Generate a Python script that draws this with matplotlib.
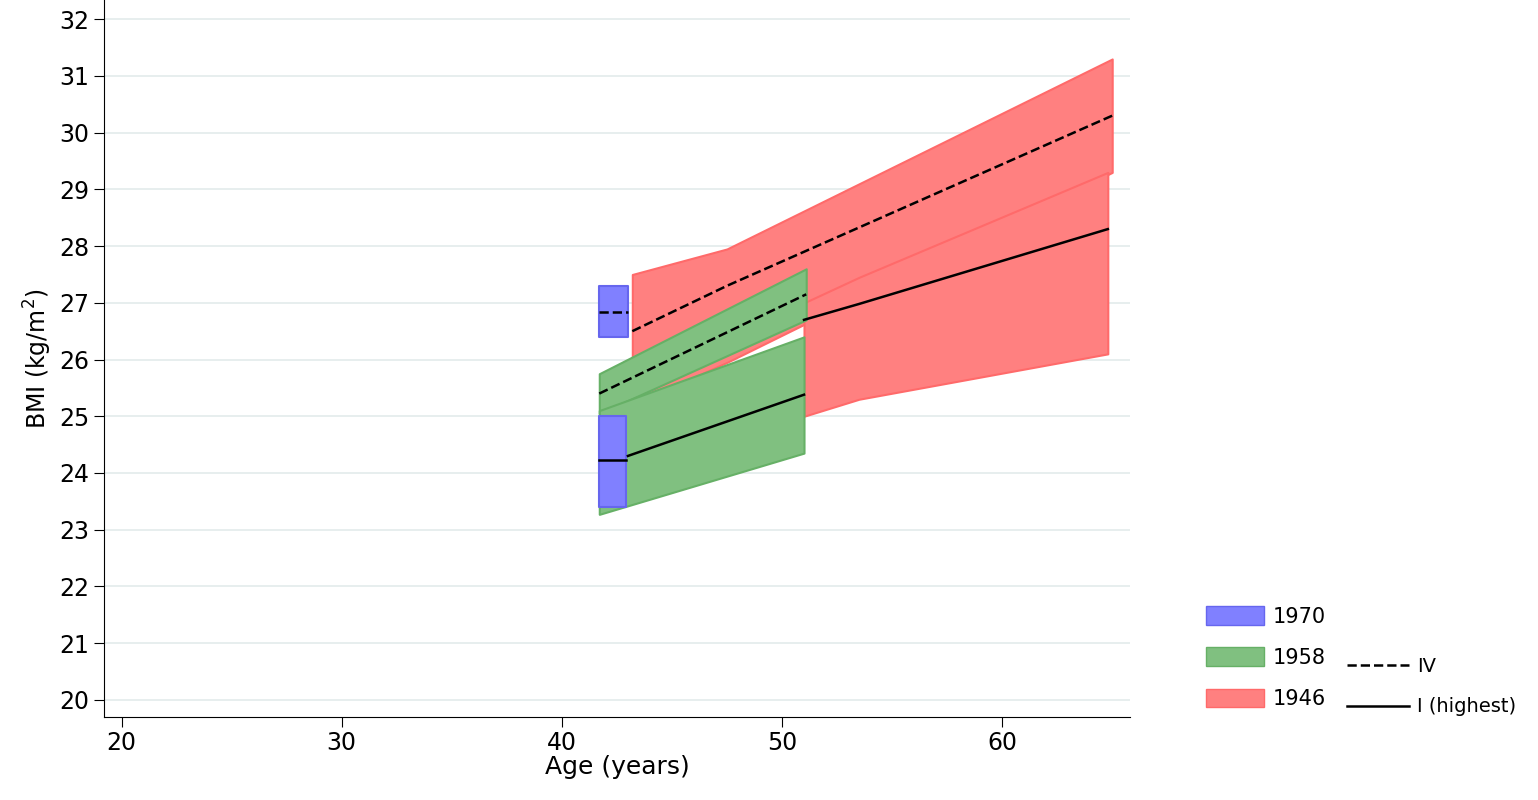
import matplotlib
matplotlib.use("Agg")
import matplotlib.pyplot as plt
from matplotlib.patches import Patch
from matplotlib.lines import Line2D

# data: (x, lower, upper, line)
c1970_IV_x=[41.7,43.0]; c1970_IV_lo=[26.4,26.4]; c1970_IV_hi=[27.3,27.3]; c1970_IV_m=[26.83,26.83]
c1970_I_x=[41.7,42.9]; c1970_I_lo=[23.4,23.4]; c1970_I_hi=[25.0,25.0]; c1970_I_m=[24.22,24.22]
c1958_IV_x=[41.7,51.1]; c1958_IV_lo=[25.05,26.7]; c1958_IV_hi=[25.75,27.6]; c1958_IV_m=[25.4,27.15]
c1958_I_x=[41.7,51.0]; c1958_I_lo=[23.27,24.35]; c1958_I_hi=[25.1,26.4]; c1958_I_m=[24.28,25.38]
c1946_IV_x=[43.2,47.5,65.0]; c1946_IV_lo=[25.2,25.95,29.3]; c1946_IV_hi=[27.5,27.95,31.3]; c1946_IV_m=[26.5,27.3,30.3]
c1946_I_x=[51.0,53.5,64.8]; c1946_I_lo=[25.0,25.3,26.1]; c1946_I_hi=[27.0,27.45,29.3]; c1946_I_m=[26.7,26.98,28.3]

red,green,blue='#ff8080','#80c080','#8080ff'
fig=plt.figure(figsize=(15.38,8.0),dpi=100)
ax=fig.add_axes([0.0676,0.104,0.667,0.896])
for (x,lo,hi,fc,ec) in [
    (c1946_IV_x,c1946_IV_lo,c1946_IV_hi,red,'#ff6a6a'),
    (c1946_I_x,c1946_I_lo,c1946_I_hi,red,'#ff6a6a'),
    (c1958_IV_x,c1958_IV_lo,c1958_IV_hi,green,'#66b066'),
    (c1958_I_x,c1958_I_lo,c1958_I_hi,green,'#66b066'),
    (c1970_IV_x,c1970_IV_lo,c1970_IV_hi,blue,'#6666ee'),
    (c1970_I_x,c1970_I_lo,c1970_I_hi,blue,'#6666ee')]:
    ax.fill_between(x,lo,hi,facecolor=fc,edgecolor=ec,lw=1.5,zorder=2)
for (x,m,ls) in [(c1946_IV_x,c1946_IV_m,'--'),(c1946_I_x,c1946_I_m,'-'),
                 (c1958_IV_x,c1958_IV_m,'--'),([43.0,51.0],[24.3,25.38],'-'),
                 (c1970_IV_x,c1970_IV_m,'--'),(c1970_I_x,c1970_I_m,'-')]:
    ax.plot(x,m,color='black',ls=ls,lw=1.8,zorder=4)
ax.set_xlim(19.2,65.8); ax.set_ylim(19.7,32.34)
ax.set_xticks([20,30,40,50,60]); ax.set_yticks(range(20,33))
ax.grid(axis='y',color='#e3ebeb',lw=1.2,zorder=0); ax.set_axisbelow(True)
for s in ['top','right']: ax.spines[s].set_visible(False)
ax.tick_params(labelsize=17,length=7)
ax.set_xlabel('Age (years)',fontsize=18,labelpad=0)
ax.set_ylabel('BMI (kg/m$^2$)',fontsize=17,labelpad=4)
h=[Patch(fc=blue,ec='#6666ee'),Patch(fc=green,ec='#66b066'),Patch(fc=red,ec='#ff6a6a')]
fig.legend(h,['1970','1958','1946'],loc='lower left',bbox_to_anchor=(0.772,0.09),frameon=False,
           fontsize=15,handlelength=2.8,handleheight=1.0,labelspacing=1.0,handletextpad=0.4)
l=[Line2D([],[],color='black',ls='--',lw=1.8),Line2D([],[],color='black',lw=1.8)]
fig.legend(l,['IV','I (highest)'],loc='lower left',bbox_to_anchor=(0.868,0.09),frameon=False,
           fontsize=14,handlelength=3.2,labelspacing=1.1,handletextpad=0.4,borderaxespad=0.2)
fig.savefig('out.png')
